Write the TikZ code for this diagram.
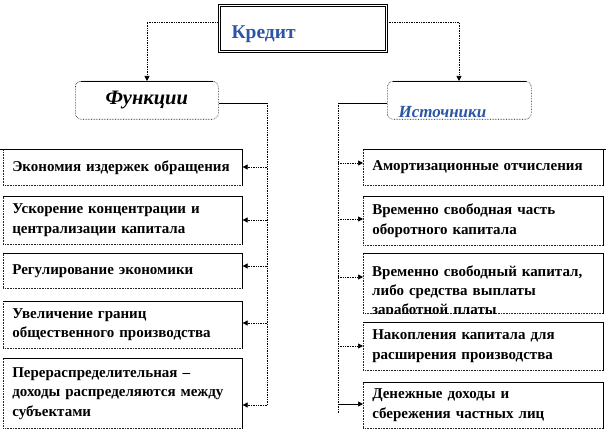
\documentclass[tikz,border=0pt]{standalone}
\usepackage{fontspec}
\setmainfont{Liberation Serif}
\usetikzlibrary{arrows.meta}
\definecolor{kblue}{RGB}{45,85,165}
\tikzset{
  box/.style={draw=black!85, densely dotted, line width=0.6pt, text width=221pt, anchor=north west,
              inner xsep=9pt, inner ysep=0pt, align=left, font=\fontsize{15}{19.5}\selectfont\bfseries},
  rbox/.style={box, text width=222pt},
  conn/.style={densely dotted, line width=0.7pt},
  solidconn/.style={line width=0.7pt},
  arr/.style={-{Triangle[length=5pt,width=5pt]}},
  edge/.style={line width=0.7pt, black},
}
\begin{document}
\begin{tikzpicture}[x=1pt,y=-1pt]
\useasboundingbox (0,0) rectangle (606,433);
% Credit
\node[draw, line width=0.8pt, double=white, double distance=1.6pt, minimum width=167pt, minimum height=46pt, anchor=north west] (K) at (219,5) {};
\node[anchor=west, text=kblue, font=\fontsize{19.5}{22}\selectfont\bfseries] (Kt) at (228,34) {Кредит};
% Functions
\node[draw, densely dotted, line width=0.6pt, rounded corners=6pt, minimum width=143pt, minimum height=38pt, anchor=north west,
      font=\fontsize{20.5}{22}\selectfont\bfseries\itshape] (F) at (75,81) {Функции};
\draw[edge] ([xshift=6pt]F.north west) -- ([xshift=-6pt]F.north east);
% Sources
\node[draw, densely dotted, line width=0.6pt, rounded corners=6pt, minimum width=144pt, minimum height=38pt, anchor=north west] (S) at (387,81) {};
\node[anchor=west, text=kblue, font=\fontsize{17}{19}\selectfont\bfseries\itshape] (St) at (395,112) {Источники};
\draw[edge] ([xshift=6pt]S.north west) -- ([xshift=-6pt]S.north east);
% top connectors
\coordinate (KL) at (147,22);
\coordinate (KR) at (459,22);
\draw[conn, arr] (K.west |- KL) -- (KL) -- (KL |- F.north);
\draw[conn, arr] (K.east |- KR) -- (KR) -- (KR |- S.north);
% left boxes
\node[box, minimum height=36pt] (L1) at (3,149) {Экономия издержек обращения};
\node[box, minimum height=48pt] (L2) at (3,196) {Ускорение концентрации и\\ централизации капитала};
\node[box, minimum height=35pt] (L3) at (3,253) {Регулирование экономики};
\node[box, minimum height=47pt] (L4) at (3,301) {Увеличение границ\\ общественного производства};
\node[box, minimum height=70pt] (L5) at (3,358) {Перераспределительная –\\ доходы распределяются между\\ субъектами};
% right boxes
\node[rbox, minimum height=36pt] (R1) at (363,149) {Амортизационные отчисления};
\node[rbox, minimum height=49pt] (R2) at (363,196) {Временно свободная часть\\ оборотного капитала};
\node[rbox, minimum height=60pt] (R3) at (363,253) {};
\begin{scope}
  \clip (R3.south west) rectangle (R3.north east);
  \node[anchor=north west, text width=222pt, inner xsep=9pt, inner ysep=0pt, align=left, font=\fontsize{15}{19}\selectfont\bfseries] (R3t) at (363,266) {Временно свободный капитал,\\ либо средства выплаты\\ заработной платы};
\end{scope}
\node[rbox, minimum height=48pt] (R4) at (363,322) {Накопления капитала для\\ расширения производства};
\node[rbox, minimum height=46pt] (R5) at (363,382) {Денежные доходы и\\ сбережения частных лиц};
% solid top/right edges
\foreach \n in {L1,L2,L3,L4,L5,R1,R2,R3,R4,R5}
  \draw[edge, line width=0.6pt] (\n.north west) -- (\n.north east) -- (\n.south east);
% left connectors
\coordinate (LT) at (267,103);
\coordinate (LB) at (267,405);
\draw[solidconn] (F.east |- LT) -- (LT);
\draw[conn] (LT) -- (LB);
\foreach \n/\y in {L1/167,L2/220,L3/266,L4/323,L5/405}{
  \coordinate (a\n) at (267,\y);
  \draw[conn, arr] (a\n) -- (a\n -| \n.east);
}
% right connectors
\coordinate (RT) at (338,103);
\coordinate (RB) at (338,414);
\draw[solidconn] (S.west |- RT) -- (RT);
\draw[conn] (RT) -- (RB);
\foreach \n/\y in {R1/163,R2/219,R3/277,R4/346}{
  \coordinate (b\n) at (338,\y);
  \draw[conn, arr] (b\n) -- (b\n -| \n.west);
}
\coordinate (bR5) at (338,404);
\draw[solidconn, arr] (bR5) -- (bR5 -| R5.west);
% stray rule lines
\coordinate (LR) at (0,149);
\coordinate (RR) at (606,149);
\draw[edge] (LR) -- (L1.north east);
\draw[edge] (R1.north west) -- (RR);
\end{tikzpicture}
\end{document}
